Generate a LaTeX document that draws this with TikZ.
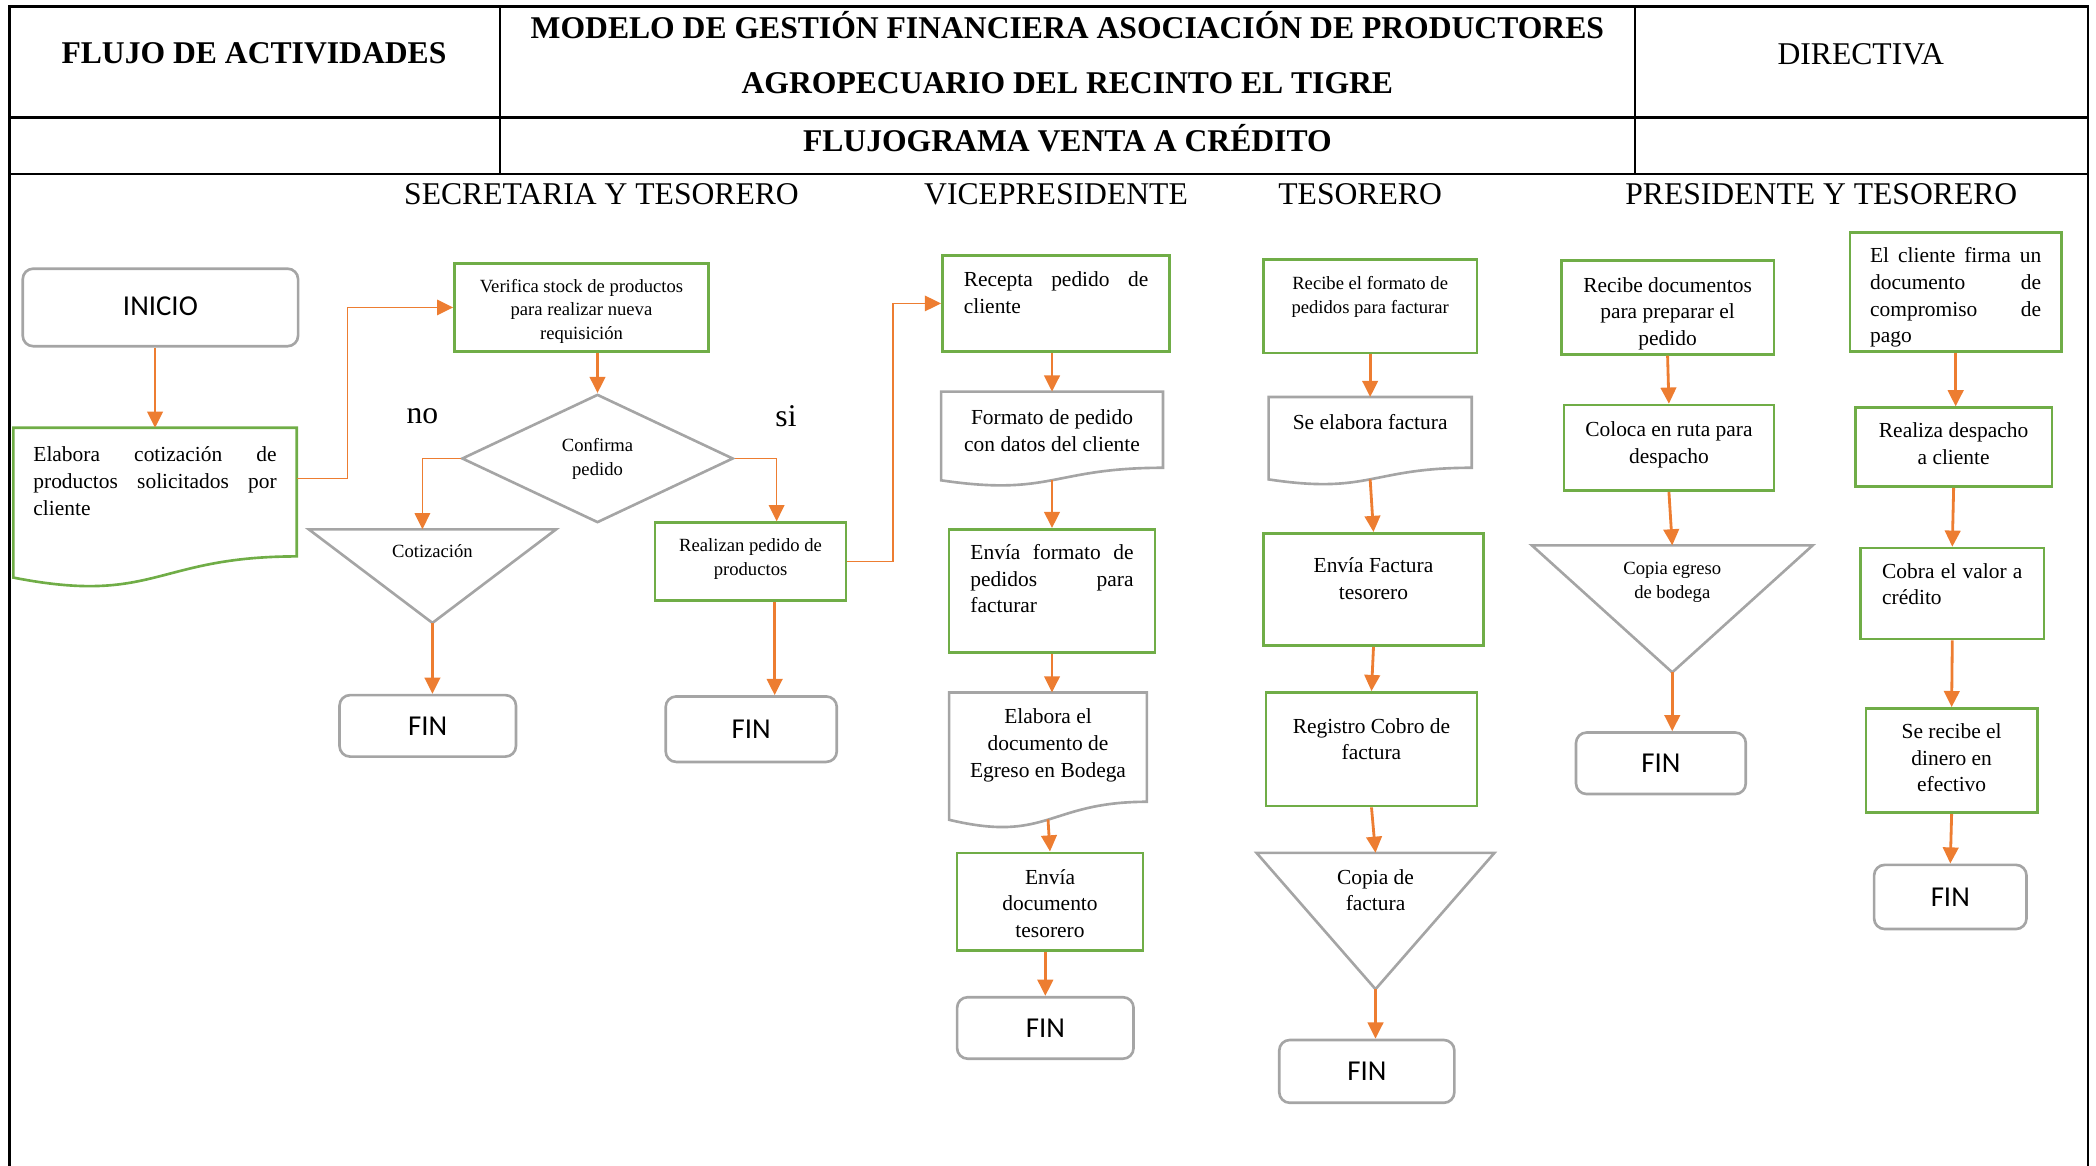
\documentclass[tikz,border=0pt]{standalone}
\usepackage{fontspec}
\setmainfont{Liberation Serif}
\newfontfamily\calib{Carlito}
\usetikzlibrary{arrows.meta,shapes.geometric,calc}

\definecolor{cgreen}{HTML}{70AD47}
\definecolor{cgray}{HTML}{A5A5A5}
\definecolor{corange}{HTML}{ED7D31}

% one drawing unit
\newlength\ux
\setlength\ux{0.013367cm}

\newcommand\nf{\fontsize{6.1}{7.6}\selectfont}
\newcommand\smf{\fontsize{5.3}{6.8}\selectfont}

% text block: width, height, top gap, text
\newcommand\boxc[4]{\parbox[c][#2\ux][t]{#1\ux}{\vspace*{\dimexpr#3\ux+1.5\ux\relax}\centering\strut #4}}
\newcommand\boxj[4]{\parbox[c][#2\ux][t]{#1\ux}{\vspace*{\dimexpr#3\ux+1.5\ux\relax}\strut #4}}

% document symbol (wavy bottom) around a node
\newcommand\docshape[2]{%
  \draw[#2] let \p1=(#1.north west), \p2=(#1.south east) in
    (\x1,\y1) -- (\x2,\y1) -- (\x2,{\y1-0.802*(\y1-\y2)})
    .. controls ({(\x1+\x2)/2},{\y1-0.802*(\y1-\y2)}) and ({(\x1+\x2)/2},{\y1-1.1075*(\y1-\y2)})
    .. (\x1,{\y1-0.934*(\y1-\y2)}) -- cycle;}
% inverted triangle (archive symbol) around a node
\newcommand\trishape[2]{%
  \draw[#2] (#1.north west) -- (#1.north east) -- (#1.south) -- cycle;}

\hbadness=10000

\tikzset{
  frame/.style={line width=0.7pt, black},
  hdr/.style={font=\fontsize{9}{11}\selectfont\bfseries, inner sep=0pt},
  hdrn/.style={font=\fontsize{9}{11}\selectfont, inner sep=0pt},
  gbox/.style={draw=cgreen, line width=0.75pt, rectangle, inner sep=0pt, font=\nf},
  shell/.style={rectangle, inner sep=0pt, outer sep=0pt, font=\nf},
  gline/.style={draw=cgreen, line width=0.75pt},
  grline/.style={draw=cgray, line width=0.75pt},
  term/.style={draw=cgray, line width=0.75pt, rounded corners=3pt, inner sep=0pt,
    font={\fontsize{8.2}{9.8}\calib}},
  arr/.style={draw=corange, line width=0.8pt, -{Triangle[length=4.6pt,width=4.4pt]}},
  elbow/.style={arr, line width=0.45pt},
}

\begin{document}
\begin{tikzpicture}[x=0.013367cm, y=-0.013367cm]
\useasboundingbox (0,0) rectangle (1568,872);

% ---- header table ----
\draw[frame] (7,872) -- (7,5) -- (1562,5) -- (1562,872);
\draw[frame] (7,88) -- (1562,88);
\draw[frame] (7,130) -- (1562,130);
\draw[frame] (374,5) -- (374,130);
\draw[frame] (1223,5) -- (1223,130);

\node[hdr] (hFlujo) at (190,40) {FLUJO DE ACTIVIDADES};
\node[hdr, align=center, font=\fontsize{9}{15.6}\selectfont\bfseries] (hModelo) at (798.5,39.5)
  {MODELO DE GESTIÓN FINANCIERA ASOCIACIÓN DE PRODUCTORES\\AGROPECUARIO DEL RECINTO EL TIGRE};
\node[hdrn] (hDir) at (1392,40.5) {DIRECTIVA};
\node[hdr] (hTitulo) at (798.5,103) {FLUJOGRAMA VENTA A CRÉDITO};

% ---- lanes ----
\node[hdrn] (lSec) at (450,145) {SECRETARIA Y TESORERO};
\node[hdrn] (lVic) at (790,145) {VICEPRESIDENTE};
\node[hdrn] (lTes) at (1017.5,145) {TESORERO};
\node[hdrn] (lPre) at (1362.5,145) {PRESIDENTE Y TESORERO};

% ---- secretaria y tesorero ----
\node[term, minimum width=206\ux, minimum height=58\ux] (ini) at (120,230) {\raisebox{1.5\ux}{INICIO}};
\node[shell, minimum width=212\ux] (cot) at (116,380)
  {\boxj{182}{120}{10}{Elabora cotización de\linebreak productos solicitados por\linebreak cliente}};
\docshape{cot}{gline}
\node[gbox, font=\smf, minimum width=190\ux] (ver) at (435,230)
  {\boxc{180}{66}{7.5}{Verifica stock de productos\\para realizar nueva\\requisición}};
\node[diamond, aspect=2.1, draw=cgray, line width=0.75pt, minimum width=203\ux, minimum height=96\ux,
  inner sep=0pt, font=\smf] (conf) at (447,343)
  {\raisebox{-3\ux}{\parbox{60\ux}{\centering Confirma\\pedido}}};
\node[hdrn] (lNo) at (316,311) {no};
\node[hdrn] (lSi) at (588,311) {si};
\node[shell, font=\smf, minimum width=185\ux] (cotz) at (323.5,431) {\boxc{150}{70}{7}{Cotización}};
\trishape{cotz}{grline}
\node[term, minimum width=132\ux, minimum height=46\ux] (fin1) at (320,543) {FIN};
\node[gbox, font=\smf, minimum width=143\ux] (rea) at (561.5,420)
  {\boxc{135}{58}{7.5}{Realizan pedido de\\productos}};
\node[term, minimum width=128\ux, minimum height=49\ux] (fin2) at (562,545.5) {FIN};

% ---- vicepresidente ----
\node[gbox, minimum width=170\ux] (rec) at (790,227)
  {\boxj{138}{72}{8}{Recepta pedido de\linebreak cliente}};
\node[shell, minimum width=166\ux] (fmt) at (787,328.5)
  {\boxc{158}{71}{9}{Formato de pedido\\con datos del cliente}};
\docshape{fmt}{grline}
\node[gbox, minimum width=154\ux] (env) at (787,442)
  {\boxj{122}{92}{7}{Envía formato de\linebreak pedidos para\linebreak facturar}};
\node[shell, minimum width=148\ux] (egr) at (784,569)
  {\boxc{142}{102}{8}{Elabora el\\documento de\\Egreso en Bodega}};
\docshape{egr}{grline}
\node[gbox, minimum width=139\ux] (envd) at (785.5,674.5)
  {\boxc{130}{73}{8}{Envía\\documento\\tesorero}};
\node[term, minimum width=132\ux, minimum height=46\ux] (fin3) at (782,769) {FIN};

% ---- tesorero ----
\node[gbox, font=\smf, minimum width=160\ux] (rfac) at (1025,229)
  {\boxc{150}{70}{8.5}{Recibe el formato de\\pedidos para facturar}};
\node[shell, minimum width=152\ux] (fac) at (1025,330)
  {\boxc{144}{66}{9}{Se elabora factura}};
\docshape{fac}{grline}
\node[gbox, minimum width=165\ux] (envf) at (1027.5,441)
  {\boxc{150}{84}{14}{Envía Factura\\tesorero}};
\node[gbox, minimum width=158\ux] (reg) at (1026,560.5)
  {\boxc{150}{85}{15}{Registro Cobro de\\factura}};
\node[shell, minimum width=178\ux] (cfac) at (1029,689)
  {\boxc{150}{102}{8}{Copia de\\factura}};
\trishape{cfac}{grline}
\node[term, minimum width=131\ux, minimum height=47\ux] (fin4) at (1022.5,801.5) {FIN};

% ---- presidente y tesorero ----
\node[gbox, minimum width=159\ux] (rdoc) at (1247.5,230)
  {\boxc{150}{70}{8}{Recibe documentos\\para preparar el\\pedido}};
\node[gbox, minimum width=157\ux] (ruta) at (1248.5,335)
  {\boxc{150}{64}{8}{Coloca en ruta para\\despacho}};
\node[shell, font=\smf, minimum width=210\ux] (cegr) at (1251,455.5)
  {\boxc{150}{95}{7.5}{Copia egreso\\de bodega}};
\trishape{cegr}{grline}
\node[term, minimum width=127\ux, minimum height=46\ux] (fin5) at (1242.5,571) {FIN};

\node[gbox, minimum width=158\ux] (firma) at (1463,218.5)
  {\boxj{128}{89}{7}{El cliente firma un\linebreak documento de\linebreak compromiso de\linebreak pago}};
\node[gbox, minimum width=147\ux] (desp) at (1461.5,334.5)
  {\boxc{140}{59}{7}{Realiza despacho\\a cliente}};
\node[gbox, minimum width=137\ux] (cobra) at (1460.5,444)
  {\boxj{105}{68}{7}{Cobra el valor a\linebreak crédito}};
\node[gbox, minimum width=128\ux] (din) at (1460,569)
  {\boxc{120}{78}{7}{Se recibe el\\dinero en\\efectivo}};
\node[term, minimum width=114\ux, minimum height=48\ux] (fin6) at (1459,671) {FIN};

% ---- connectors ----
\draw[arr] (ini.south -| cot.north) -- (cot.north);
\draw[elbow] ([yshift=22\ux]cot.east) -- ++(38,0) |- (ver.west);
\draw[arr] (ver.south -| conf.north) -- (conf.north);
\draw[elbow] (conf.west) -| ([xshift=-7.5\ux]cotz.north);
\draw[arr] (cotz.south) -- (cotz.south |- fin1.north);
\draw[elbow] (conf.east) -| ([xshift=19.5\ux]rea.north);
\draw[arr] ([xshift=18\ux]rea.south) -- ([xshift=18\ux]rea.south |- fin2.north);
\draw[elbow] (rea.east) -- ++(34,0) |- (rec.west);

\draw[arr] (rec.south -| fmt.north) -- (fmt.north);
\draw[arr] ([yshift=4.8\ux]fmt.south) -- (env.north);
\draw[arr] (env.south) -- (env.south |- egr.north);
\draw[arr] ([yshift=7\ux]egr.south) -- (envd.north);
\draw[arr] (envd.south -| fin3.north) -- (fin3.north);

\draw[arr] (rfac.south) -- (fac.north);
\draw[arr] ([yshift=4.4\ux]fac.south) -- (envf.north);
\draw[arr] (envf.south) -- (reg.north);
\draw[arr] (reg.south) -- (cfac.north);
\draw[arr] (cfac.south) -- (cfac.south |- fin4.north);

\draw[arr] (rdoc.south) -- (ruta.north);
\draw[arr] (ruta.south) -- (cegr.north);
\draw[arr] (cegr.south) -- (cegr.south |- fin5.north);

\draw[arr] (firma.south) -- (firma.south |- desp.north);
\draw[arr] (desp.south) -- (cobra.north);
\draw[arr] (cobra.south) -- (din.north);
\draw[arr] (din.south) -- (fin6.north);
\end{tikzpicture}
\end{document}
